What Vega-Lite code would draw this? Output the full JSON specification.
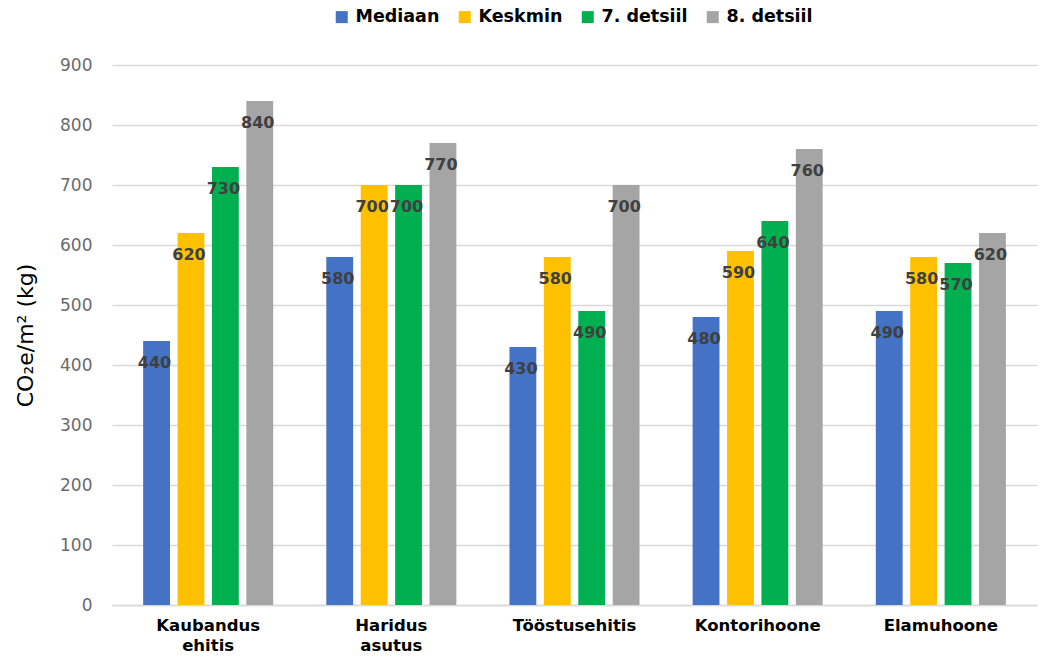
{
  "$schema": "https://vega.github.io/schema/vega-lite/v6.json",
  "width": 925,
  "height": 540,
  "autosize": {"type": "none"},
  "padding": {"left": 112, "top": 65, "right": 21, "bottom": 52},
  "background": "white",
  "config": {
    "view": {"stroke": null},
    "font": "DejaVu Sans"
  },
  "data": {
    "values": [
      {"kategooria": "Kaubandus ehitis", "naitaja": "Mediaan", "vaartus": 440},
      {"kategooria": "Kaubandus ehitis", "naitaja": "Keskmin", "vaartus": 620},
      {"kategooria": "Kaubandus ehitis", "naitaja": "7. detsiil", "vaartus": 730},
      {"kategooria": "Kaubandus ehitis", "naitaja": "8. detsiil", "vaartus": 840},
      {"kategooria": "Haridus asutus", "naitaja": "Mediaan", "vaartus": 580},
      {"kategooria": "Haridus asutus", "naitaja": "Keskmin", "vaartus": 700},
      {"kategooria": "Haridus asutus", "naitaja": "7. detsiil", "vaartus": 700},
      {"kategooria": "Haridus asutus", "naitaja": "8. detsiil", "vaartus": 770},
      {"kategooria": "Tööstusehitis", "naitaja": "Mediaan", "vaartus": 430},
      {"kategooria": "Tööstusehitis", "naitaja": "Keskmin", "vaartus": 580},
      {"kategooria": "Tööstusehitis", "naitaja": "7. detsiil", "vaartus": 490},
      {"kategooria": "Tööstusehitis", "naitaja": "8. detsiil", "vaartus": 700},
      {"kategooria": "Kontorihoone", "naitaja": "Mediaan", "vaartus": 480},
      {"kategooria": "Kontorihoone", "naitaja": "Keskmin", "vaartus": 590},
      {"kategooria": "Kontorihoone", "naitaja": "7. detsiil", "vaartus": 640},
      {"kategooria": "Kontorihoone", "naitaja": "8. detsiil", "vaartus": 760},
      {"kategooria": "Elamuhoone", "naitaja": "Mediaan", "vaartus": 490},
      {"kategooria": "Elamuhoone", "naitaja": "Keskmin", "vaartus": 580},
      {"kategooria": "Elamuhoone", "naitaja": "7. detsiil", "vaartus": 570},
      {"kategooria": "Elamuhoone", "naitaja": "8. detsiil", "vaartus": 620}
    ]
  },
  "encoding": {
    "x": {
      "field": "kategooria",
      "type": "nominal",
      "sort": null,
      "scale": {"paddingInner": 0.29, "paddingOuter": 0.17},
      "axis": {
        "title": null,
        "labelAngle": 0,
        "labelFont": "DejaVu Sans",
        "labelFontWeight": "bold",
        "labelFontSize": 16.5,
        "labelColor": "#000000",
        "labelPadding": 12,
        "labelLineHeight": 20,
        "labelExpr": "datum.value == 'Kaubandus ehitis' ? ['Kaubandus', 'ehitis'] : datum.value == 'Haridus asutus' ? ['Haridus', 'asutus'] : datum.value",
        "ticks": false,
        "domainColor": "#d9d9d9",
        "domainWidth": 1.5
      }
    },
    "xOffset": {
      "field": "naitaja",
      "type": "nominal",
      "sort": ["Mediaan", "Keskmin", "7. detsiil", "8. detsiil"],
      "scale": {"paddingInner": 0.22}
    },
    "y": {
      "field": "vaartus",
      "type": "quantitative",
      "scale": {"domain": [0, 900]},
      "axis": {
        "title": "CO₂e/m²  (kg)",
        "titleFont": "DejaVu Sans",
        "titleFontWeight": "normal",
        "titleFontSize": 22,
        "titleColor": "#000000",
        "titlePadding": 22,
        "values": [0, 100, 200, 300, 400, 500, 600, 700, 800, 900],
        "labelFont": "DejaVu Sans",
        "labelFontSize": 17,
        "labelColor": "#6b6b6b",
        "labelPadding": 20,
        "ticks": false,
        "domain": false,
        "gridColor": "#d9d9d9",
        "gridWidth": 1.5
      }
    }
  },
  "layer": [
    {
      "mark": {"type": "bar"},
      "encoding": {
        "color": {
          "field": "naitaja",
          "type": "nominal",
          "sort": ["Mediaan", "Keskmin", "7. detsiil", "8. detsiil"],
          "scale": {
            "domain": ["Mediaan", "Keskmin", "7. detsiil", "8. detsiil"],
            "range": ["#4472C4", "#FFC000", "#00B050", "#A5A5A5"]
          },
          "legend": {
            "title": null,
            "orient": "none",
            "legendX": 221,
            "legendY": -57,
            "direction": "horizontal",
            "symbolType": "square",
            "symbolSize": 144,
            "symbolStrokeWidth": 0,
            "labelFont": "DejaVu Sans",
            "labelFontWeight": "bold",
            "labelFontSize": 17.5,
            "labelColor": "#000000",
            "labelOffset": 5,
            "columnPadding": 16
          }
        }
      }
    },
    {
      "mark": {
        "type": "text",
        "baseline": "middle",
        "align": "center",
        "dy": 22,
        "dx": -2,
        "font": "DejaVu Sans",
        "fontWeight": "bold",
        "fontSize": 16,
        "color": "#404040"
      },
      "encoding": {
        "text": {"field": "vaartus", "type": "quantitative"}
      }
    }
  ]
}
